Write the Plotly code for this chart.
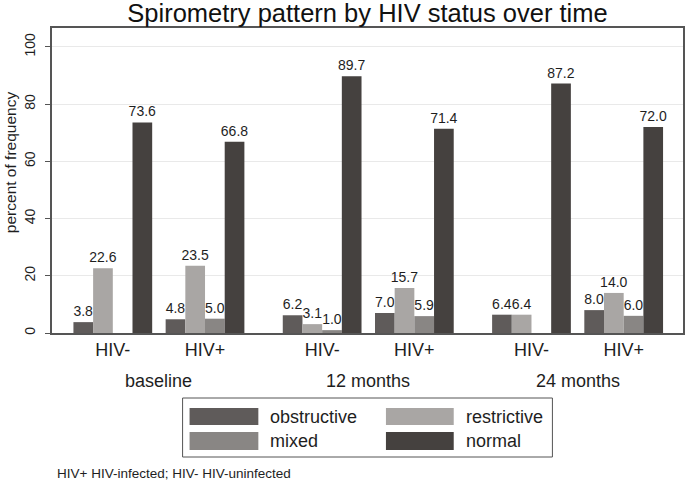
import plotly.graph_objects as go

# ---------------- data ----------------
times = ["baseline", "12 months", "24 months"]
status = ["HIV-", "HIV+"]
patterns = ["obstructive", "restrictive", "mixed", "normal"]
obstructive = [3.8, 4.8, 6.2, 7.0, 6.4, 8.0]
restrictive = [22.6, 23.5, 3.1, 15.7, 6.4, 14.0]
mixed = [None, 5.0, 1.0, 5.9, None, 6.0]
normal = [73.6, 66.8, 89.7, 71.4, 87.2, 72.0]
series = [obstructive, restrictive, mixed, normal]
colors = ["#5f5b5a", "#a9a6a4", "#898684", "#45413f"]
y_ticks = [0, 20, 40, 60, 80, 100]
footnote = "HIV+ HIV-infected; HIV- HIV-uninfected"
title = "Spirometry pattern by HIV status over time"

# ---------------- layout geometry ----------------
W, H = 688, 484
L, R, T, B = 52, 3, 28, 151
PW, PH = W - L - R, H - T - B
BW = 19.75
TIME_STEP, HIV_STEP, X0 = 210, 92.5, 61

def px2x(px):
    return (px - L) / PW

def py2y(py):
    return (T + PH - py) / PH

centers = []
for t in range(len(times)):
    for h in range(len(status)):
        centers.append(X0 + t * TIME_STEP + h * HIV_STEP)

FONT = "Liberation Sans, Arial, sans-serif"
TXT = "#1e1e1e"

fig = go.Figure()
for k, (name, vals, col) in enumerate(zip(patterns, series, colors)):
    fig.add_trace(go.Bar(
        x=centers, y=vals, name=name,
        width=BW, offset=(k - 2) * BW,
        marker=dict(color=col, line=dict(width=0)),
        text=["" if v is None else f"{v:.1f}" for v in vals],
        textposition="outside", constraintext="none", cliponaxis=False,
        textfont=dict(size=14, color=TXT, family=FONT),
        showlegend=False,
    ))

annotations = []
# time group labels
for t, lab in enumerate(times):
    cx = (centers[2 * t] + centers[2 * t + 1]) / 2
    annotations.append(dict(x=cx, xref="x", y=py2y(381), yref="paper", text=lab,
                            showarrow=False, font=dict(size=18, color=TXT, family=FONT),
                            xanchor="center", yanchor="middle"))
# y title
annotations.append(dict(x=px2x(10), xref="paper", y=py2y(162), yref="paper",
                        text="percent of frequency", textangle=-90, showarrow=False,
                        font=dict(size=15.5, color=TXT, family=FONT),
                        xanchor="center", yanchor="middle"))
# footnote
annotations.append(dict(x=px2x(55), xref="paper", y=py2y(473), yref="paper",
                        text=footnote, showarrow=False,
                        font=dict(size=13.5, color=TXT, family=FONT),
                        xanchor="left", yanchor="middle"))

shapes = []
# legend box
shapes.append(dict(type="rect", xref="paper", yref="paper",
                   x0=px2x(183), x1=px2x(554), y0=py2y(457), y1=py2y(398),
                   line=dict(color="#555555", width=1), fillcolor="white"))
sw_x = [(190, 259), (387, 455)]
sw_y = [(408, 425), (432, 450)]
txt_x = [269, 465]
for i, (name, col) in enumerate(zip(patterns, colors)):
    r, c = i // 2, i % 2
    shapes.append(dict(type="rect", xref="paper", yref="paper",
                       x0=px2x(sw_x[c][0]), x1=px2x(sw_x[c][1]),
                       y0=py2y(sw_y[r][1]), y1=py2y(sw_y[r][0]),
                       line=dict(width=0), fillcolor=col))
    annotations.append(dict(x=px2x(txt_x[c]), xref="paper",
                            y=py2y((sw_y[r][0] + sw_y[r][1]) / 2), yref="paper",
                            text=name, showarrow=False,
                            font=dict(size=18, color=TXT, family=FONT),
                            xanchor="left", yanchor="middle"))

fig.update_layout(
    width=W, height=H,
    margin=dict(l=L, r=R, t=T, b=B, pad=0),
    paper_bgcolor="white", plot_bgcolor="white",
    barmode="overlay",
    title=dict(text=title, x=px2x(368.5), xref="paper", xanchor="center",
               y=1 - 13 / H, yref="container", yanchor="middle",
               font=dict(size=25.5, color="#111111", family=FONT)),
    xaxis=dict(range=[0, PW], tickvals=centers, ticktext=status * len(times),
               showgrid=False, zeroline=False, ticks="",
               showline=True, mirror=True, linecolor="#555555", linewidth=1.5,
               tickfont=dict(size=18, color=TXT, family=FONT)),
    yaxis=dict(range=[0, 106.6], tickvals=y_ticks, tickangle=-90,
               ticks="outside", ticklen=5, tickcolor="#555555",
               ticklabelstandoff=5,
               showgrid=True, gridcolor="#e9e9e9", gridwidth=1.2, zeroline=False,
               showline=True, mirror=True, linecolor="#555555", linewidth=1.5,
               tickfont=dict(size=14, color=TXT, family=FONT)),
    annotations=annotations, shapes=shapes,
    showlegend=False,
)

fig.write_html("out.html",
               config={"displayModeBar": False},
               post_script="document.body.style.margin='0';document.body.style.overflow='hidden';")
